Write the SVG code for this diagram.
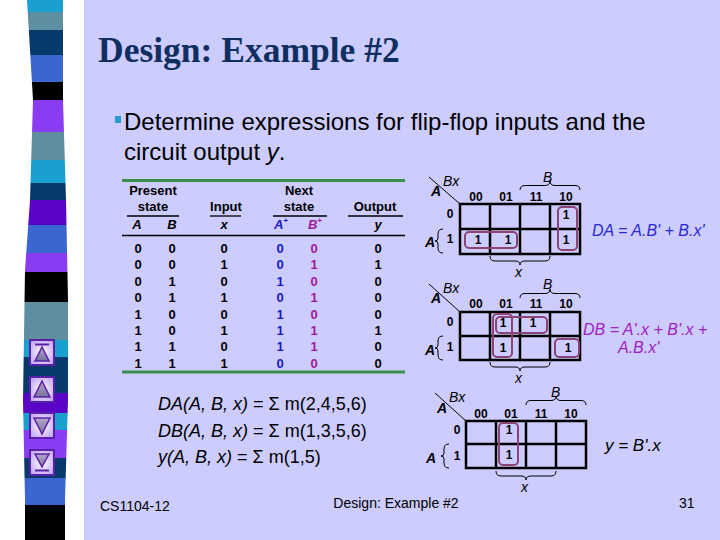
<svg xmlns="http://www.w3.org/2000/svg" width="720" height="540" viewBox="0 0 720 540">
<defs>
<style>
.t{font-family:"Liberation Sans",Arial,sans-serif}
.tb{font-family:"Liberation Sans",Arial,sans-serif;font-weight:bold;font-size:13px;text-anchor:middle}
.ti{font-family:"Liberation Sans",Arial,sans-serif;font-style:italic;font-size:14px}
.kd{font-family:"Liberation Sans",Arial,sans-serif;font-weight:bold;font-size:12px;text-anchor:middle}
.grid{fill:none;stroke:#000;stroke-width:2.5}
.loop{fill:none;stroke:#8a4476;stroke-width:2}
.br{fill:none;stroke:#000;stroke-width:1}
.btn{stroke:#5b20a8;stroke-width:2;fill:url(#bg)}
.tri{fill:url(#tg);stroke:#5b20a8;stroke-width:1.5}
</style>
<radialGradient id="bg" cx="0.5" cy="0.5" r="0.6"><stop offset="0" stop-color="#ffffff"/><stop offset="1" stop-color="#c2a6f2"/></radialGradient>
<linearGradient id="tg" x1="0" y1="0" x2="0" y2="1"><stop offset="0" stop-color="#b4a6cc"/><stop offset="1" stop-color="#77739a"/></linearGradient>
<clipPath id="band"><polygon points="27,0 63,0 63,100 66,200 68,300 68,400 65,500 65,540 25,540 25,500 23,400 25,270 30,200 33,100"/></clipPath>
</defs>
<rect width="720" height="540" fill="#ffffff"/>
<rect x="84" y="0" width="636" height="540" fill="#ccccff"/>
<g id="sidebar" clip-path="url(#band)">
<rect x="0" y="0" width="90" height="12" fill="#19a0cf"/>
<rect x="0" y="12" width="90" height="18" fill="#5e8fa1"/>
<rect x="0" y="30" width="90" height="25" fill="#073a6b"/>
<rect x="0" y="55" width="90" height="27" fill="#3b66cf"/>
<rect x="0" y="82" width="90" height="18" fill="#000000"/>
<rect x="0" y="100" width="90" height="32" fill="#8a3cf2"/>
<rect x="0" y="132" width="90" height="28" fill="#5e8fa1"/>
<rect x="0" y="160" width="90" height="23" fill="#19a0cf"/>
<rect x="0" y="183" width="90" height="17" fill="#073a6b"/>
<rect x="0" y="200" width="90" height="25" fill="#5a05c5"/>
<rect x="0" y="225" width="90" height="28" fill="#3b66cf"/>
<rect x="0" y="253" width="90" height="19" fill="#8a3cf2"/>
<rect x="0" y="272" width="90" height="30" fill="#000000"/>
<rect x="0" y="302" width="90" height="38" fill="#5e8fa1"/>
<rect x="0" y="340" width="90" height="17" fill="#19a0cf"/>
<rect x="0" y="357" width="90" height="36" fill="#073a6b"/>
<rect x="0" y="393" width="90" height="20" fill="#5a05c5"/>
<rect x="0" y="413" width="90" height="17" fill="#19a0cf"/>
<rect x="0" y="430" width="90" height="28" fill="#8a3cf2"/>
<rect x="0" y="458" width="90" height="20" fill="#073a6b"/>
<rect x="0" y="478" width="90" height="27" fill="#3b66cf"/>
<rect x="0" y="505" width="90" height="35" fill="#000000"/>
</g>
<g id="buttons">
<rect class="btn" x="30" y="340" width="24" height="25"/>
<line x1="35" y1="344.5" x2="49" y2="344.5" stroke="#5b20a8" stroke-width="2"/>
<polygon class="tri" points="42,347 35,361 49,361"/>
<rect class="btn" x="30" y="377" width="24" height="25"/>
<polygon class="tri" points="42,381 34,397 50,397"/>
<rect class="btn" x="30" y="413" width="24" height="25"/>
<polygon class="tri" points="34,418 50,418 42,434"/>
<rect class="btn" x="30" y="450" width="24" height="25"/>
<polygon class="tri" points="35,454 49,454 42,467"/>
<line x1="35" y1="470.5" x2="49" y2="470.5" stroke="#5b20a8" stroke-width="2"/>
</g>
<g id="title">
<text x="98" y="62" font-family="'Liberation Serif','Times New Roman',serif" font-weight="bold" font-size="35.5" fill="#0f2f60">Design: Example #2</text>
</g>
<g id="bullet">
<rect x="115" y="116" width="6" height="7" fill="#2a9ad0"/>
<text class="t" x="124" y="130" font-size="24" fill="#000">Determine expressions for flip-flop inputs and the</text>
<text class="t" x="124" y="160" font-size="24" fill="#000">circuit output <tspan font-style="italic">y</tspan>.</text>
</g>
<g id="table">
<line x1="122" y1="180.5" x2="405" y2="180.5" stroke="#3a8f4a" stroke-width="3"/>
<text class="tb" x="153" y="195">Present</text>
<text class="tb" x="153" y="211">state</text>
<text class="tb" x="299" y="195">Next</text>
<text class="tb" x="299" y="211">state</text>
<text class="tb" x="226" y="211">Input</text>
<text class="tb" x="375" y="211">Output</text>
<g stroke="#000" stroke-width="1.3">
<line x1="127" y1="216" x2="179" y2="216"/>
<line x1="210" y1="216" x2="241" y2="216"/>
<line x1="273" y1="216" x2="327" y2="216"/>
<line x1="348" y1="216" x2="403" y2="216"/>
</g>
<g font-style="italic">
<text class="tb" x="137" y="229">A</text>
<text class="tb" x="172" y="229">B</text>
<text class="tb" x="224" y="229">x</text>
<text class="tb" x="281" y="229" fill="#1818c8">A<tspan font-size="8" dy="-6">+</tspan></text>
<text class="tb" x="315" y="229" fill="#a01898">B<tspan font-size="8" dy="-6">+</tspan></text>
<text class="tb" x="378" y="229">y</text>
</g>
<line x1="122" y1="235.5" x2="405" y2="235.5" stroke="#000" stroke-width="1.5"/>
<g>
<text class="tb" x="138" y="253">0</text><text class="tb" x="172" y="253">0</text><text class="tb" x="224" y="253">0</text><text class="tb" x="280" y="253" fill="#1818c8">0</text><text class="tb" x="314" y="253" fill="#a01898">0</text><text class="tb" x="378" y="253">0</text>
<text class="tb" x="138" y="269.4">0</text><text class="tb" x="172" y="269.4">0</text><text class="tb" x="224" y="269.4">1</text><text class="tb" x="280" y="269.4" fill="#1818c8">0</text><text class="tb" x="314" y="269.4" fill="#a01898">1</text><text class="tb" x="378" y="269.4">1</text>
<text class="tb" x="138" y="285.8">0</text><text class="tb" x="172" y="285.8">1</text><text class="tb" x="224" y="285.8">0</text><text class="tb" x="280" y="285.8" fill="#1818c8">1</text><text class="tb" x="314" y="285.8" fill="#a01898">0</text><text class="tb" x="378" y="285.8">0</text>
<text class="tb" x="138" y="302.2">0</text><text class="tb" x="172" y="302.2">1</text><text class="tb" x="224" y="302.2">1</text><text class="tb" x="280" y="302.2" fill="#1818c8">0</text><text class="tb" x="314" y="302.2" fill="#a01898">1</text><text class="tb" x="378" y="302.2">0</text>
<text class="tb" x="138" y="318.6">1</text><text class="tb" x="172" y="318.6">0</text><text class="tb" x="224" y="318.6">0</text><text class="tb" x="280" y="318.6" fill="#1818c8">1</text><text class="tb" x="314" y="318.6" fill="#a01898">0</text><text class="tb" x="378" y="318.6">0</text>
<text class="tb" x="138" y="335">1</text><text class="tb" x="172" y="335">0</text><text class="tb" x="224" y="335">1</text><text class="tb" x="280" y="335" fill="#1818c8">1</text><text class="tb" x="314" y="335" fill="#a01898">1</text><text class="tb" x="378" y="335">1</text>
<text class="tb" x="138" y="351.4">1</text><text class="tb" x="172" y="351.4">1</text><text class="tb" x="224" y="351.4">0</text><text class="tb" x="280" y="351.4" fill="#1818c8">1</text><text class="tb" x="314" y="351.4" fill="#a01898">1</text><text class="tb" x="378" y="351.4">0</text>
<text class="tb" x="138" y="367.8">1</text><text class="tb" x="172" y="367.8">1</text><text class="tb" x="224" y="367.8">1</text><text class="tb" x="280" y="367.8" fill="#1818c8">0</text><text class="tb" x="314" y="367.8" fill="#a01898">0</text><text class="tb" x="378" y="367.8">0</text>
</g>
<line x1="122" y1="372" x2="405" y2="372" stroke="#3a8f4a" stroke-width="3"/>
</g>
<g id="kmap1">
<line x1="429" y1="177" x2="460" y2="204" stroke="#000" stroke-width="1"/>
<text class="ti" x="443" y="186">Bx</text>
<text class="ti" x="431" y="196" font-weight="bold">A</text>
<text class="ti" x="543" y="182">B</text>
<path class="br" d="M520,190 Q520,185.5 525,185.5 L545,185.5 Q550,185.5 550,181 Q550,185.5 555,185.5 L575,185.5 Q580,185.5 580,190"/>
<text class="kd" x="476" y="201">00</text><text class="kd" x="506" y="201">01</text><text class="kd" x="536" y="201">11</text><text class="kd" x="566" y="201">10</text>
<text class="kd" x="450" y="218">0</text><text class="kd" x="450" y="243">1</text>
<text class="ti" x="425" y="247" font-weight="bold">A</text>
<path class="br" d="M443,229 Q438,229 438,234 L438,238 Q438,241 435,241 Q438,241 438,244 L438,248 Q438,253 443,253"/>
<rect class="grid" x="460" y="204" width="120" height="50"/>
<line x1="460" y1="229" x2="580" y2="229" stroke="#000" stroke-width="2.5"/>
<line x1="490" y1="204" x2="490" y2="254" stroke="#000" stroke-width="2.5"/>
<line x1="520" y1="204" x2="520" y2="254" stroke="#000" stroke-width="2.5"/>
<line x1="550" y1="204" x2="550" y2="254" stroke="#000" stroke-width="2.5"/>
<text class="kd" x="566" y="219">1</text>
<text class="kd" x="478" y="244">1</text><text class="kd" x="508" y="244">1</text><text class="kd" x="566" y="244">1</text>
<rect class="loop" x="465" y="232" width="52" height="16" rx="4"/>
<rect class="loop" x="558" y="207" width="19" height="43" rx="4"/>
<path class="br" d="M490,256 Q490,261 495,261 L515,261 Q520,261 520,265 Q520,261 525,261 L545,261 Q550,261 550,256"/>
<text class="ti" x="515" y="277">x</text>
<text class="t" x="592" y="236" font-size="16" font-style="italic" fill="#2a2ad0">DA = A.B' + B.x'</text>
</g>
<g id="kmap2">
<line x1="429" y1="284" x2="460" y2="312" stroke="#000" stroke-width="1"/>
<text class="ti" x="443" y="293">Bx</text>
<text class="ti" x="431" y="303" font-weight="bold">A</text>
<text class="ti" x="543" y="289">B</text>
<path class="br" d="M520,298 Q520,293.5 525,293.5 L545,293.5 Q550,293.5 550,289 Q550,293.5 555,293.5 L575,293.5 Q580,293.5 580,298"/>
<text class="kd" x="476" y="308">00</text><text class="kd" x="506" y="308">01</text><text class="kd" x="536" y="308">11</text><text class="kd" x="566" y="308">10</text>
<text class="kd" x="450" y="326">0</text><text class="kd" x="450" y="351">1</text>
<text class="ti" x="425" y="355" font-weight="bold">A</text>
<path class="br" d="M443,336 Q438,336 438,341 L438,345 Q438,348 435,348 Q438,348 438,351 L438,355 Q438,360 443,360"/>
<rect class="grid" x="460" y="312" width="120" height="48"/>
<line x1="460" y1="336" x2="580" y2="336" stroke="#000" stroke-width="2.5"/>
<line x1="490" y1="312" x2="490" y2="360" stroke="#000" stroke-width="2.5"/>
<line x1="520" y1="312" x2="520" y2="360" stroke="#000" stroke-width="2.5"/>
<line x1="550" y1="312" x2="550" y2="360" stroke="#000" stroke-width="2.5"/>
<text class="kd" x="503" y="327">1</text><text class="kd" x="533" y="327">1</text>
<text class="kd" x="503" y="352">1</text><text class="kd" x="568" y="352">1</text>
<rect class="loop" x="493" y="314" width="19" height="43" rx="4"/>
<rect class="loop" x="496" y="317" width="51" height="16" rx="4"/>
<rect class="loop" x="555" y="339" width="24" height="18" rx="4"/>
<path class="br" d="M490,362 Q490,367 495,367 L515,367 Q520,367 520,371 Q520,367 525,367 L545,367 Q550,367 550,362"/>
<text class="ti" x="515" y="383">x</text>
<g class="t" font-size="16" font-style="italic" fill="#a020c0">
<text x="583" y="335">DB = A'.x + B'.x +</text>
<text x="618" y="353">A.B.x'</text>
</g>
</g>
<g id="kmap3">
<line x1="435" y1="393" x2="466" y2="421" stroke="#000" stroke-width="1"/>
<text class="ti" x="449" y="402">Bx</text>
<text class="ti" x="437" y="413" font-weight="bold">A</text>
<text class="ti" x="551" y="397">B</text>
<path class="br" d="M526,405 Q526,400.5 531,400.5 L551,400.5 Q556,400.5 556,396 Q556,400.5 561,400.5 L581,400.5 Q586,400.5 586,405"/>
<text class="kd" x="481" y="418">00</text><text class="kd" x="511" y="418">01</text><text class="kd" x="541" y="418">11</text><text class="kd" x="571" y="418">10</text>
<text class="kd" x="457" y="434">0</text><text class="kd" x="457" y="460">1</text>
<text class="ti" x="426" y="463" font-weight="bold">A</text>
<path class="br" d="M449,444 Q444,444 444,449 L444,453 Q444,456 441,456 Q444,456 444,459 L444,463 Q444,468 449,468"/>
<rect class="grid" x="466" y="421" width="120" height="47"/>
<line x1="466" y1="444" x2="586" y2="444" stroke="#000" stroke-width="2.5"/>
<line x1="496" y1="421" x2="496" y2="468" stroke="#000" stroke-width="2.5"/>
<line x1="526" y1="421" x2="526" y2="468" stroke="#000" stroke-width="2.5"/>
<line x1="556" y1="421" x2="556" y2="468" stroke="#000" stroke-width="2.5"/>
<text class="kd" x="509" y="434">1</text><text class="kd" x="509" y="459">1</text>
<rect class="loop" x="499" y="423" width="19" height="42" rx="4"/>
<path class="br" d="M496,471 Q496,476 501,476 L521,476 Q526,476 526,480 Q526,476 531,476 L551,476 Q556,476 556,471"/>
<text class="ti" x="521" y="492">x</text>
<text class="t" x="605" y="451" font-size="17" font-style="italic" fill="#000">y = B'.x</text>
</g>
<g id="equations" class="t" font-size="18" fill="#000">
<text x="158" y="410"><tspan font-style="italic">DA(A, B, x)</tspan> = Σ m(2,4,5,6)</text>
<text x="158" y="437"><tspan font-style="italic">DB(A, B, x)</tspan> = Σ m(1,3,5,6)</text>
<text x="158" y="463"><tspan font-style="italic">y(A, B, x)</tspan> = Σ m(1,5)</text>
</g>
<g id="footer" class="t" font-size="14" fill="#000">
<text x="100" y="511">CS1104-12</text>
<text x="396" y="508" text-anchor="middle">Design: Example #2</text>
<text x="679" y="508">31</text>
</g>
</svg>
